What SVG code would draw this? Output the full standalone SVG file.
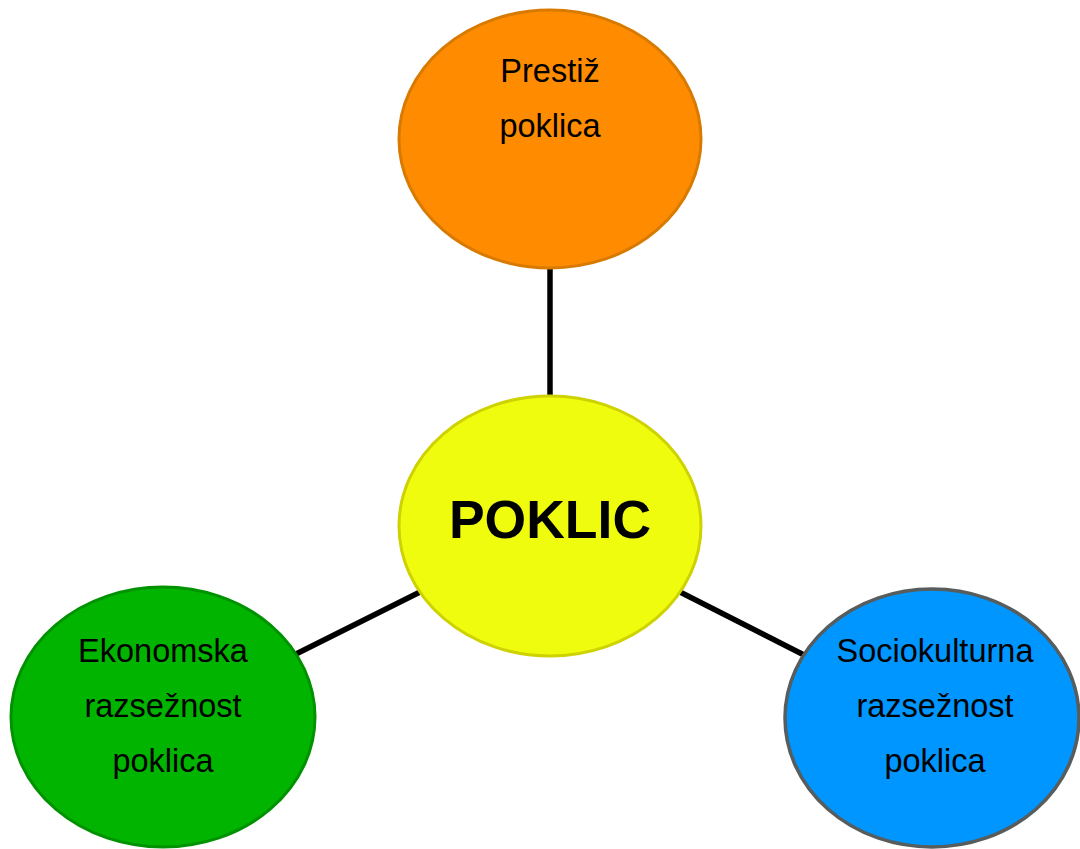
<svg xmlns="http://www.w3.org/2000/svg" width="1080" height="849" viewBox="0 0 1080 849">
<style>
.lbl{font-family:"Liberation Sans",Arial,sans-serif;font-size:32.5px;fill:#000;text-anchor:middle}
.big{font-family:"Liberation Sans",Arial,sans-serif;font-size:53.5px;font-weight:bold;fill:#000;text-anchor:middle}
.conn{stroke:#000;stroke-width:5.5;fill:none}
</style>
<rect width="1080" height="849" fill="#fff"/>
<g id="connectors">
<line class="conn" x1="550" y1="268" x2="550" y2="398"/>
<line class="conn" x1="296" y1="654" x2="420" y2="592"/>
<line class="conn" x1="680" y1="592" x2="806" y2="656"/>
</g>
<g id="prestiz">
<ellipse cx="550" cy="139" rx="151" ry="129" fill="#FF8C00" stroke="#D97A00" stroke-width="3"/>
<text class="lbl" x="550" y="82">Prestiž</text>
<text class="lbl" x="550" y="137">poklica</text>
</g>
<g id="poklic">
<ellipse cx="550" cy="526" rx="151" ry="130" fill="#F0FC0E" stroke="#CDD200" stroke-width="3"/>
<text class="big" x="550" y="538">POKLIC</text>
</g>
<g id="ekonomska">
<ellipse cx="163" cy="717" rx="152" ry="130" fill="#00B400" stroke="#009200" stroke-width="3"/>
<text class="lbl" x="163" y="662">Ekonomska</text>
<text class="lbl" x="163" y="717">razsežnost</text>
<text class="lbl" x="163" y="772">poklica</text>
</g>
<g id="sociokulturna">
<ellipse cx="932" cy="718" rx="147" ry="129" fill="#0096FF" stroke="#575C5C" stroke-width="3.5"/>
<text class="lbl" x="935" y="662">Sociokulturna</text>
<text class="lbl" x="935" y="717">razsežnost</text>
<text class="lbl" x="935" y="772">poklica</text>
</g>
</svg>
